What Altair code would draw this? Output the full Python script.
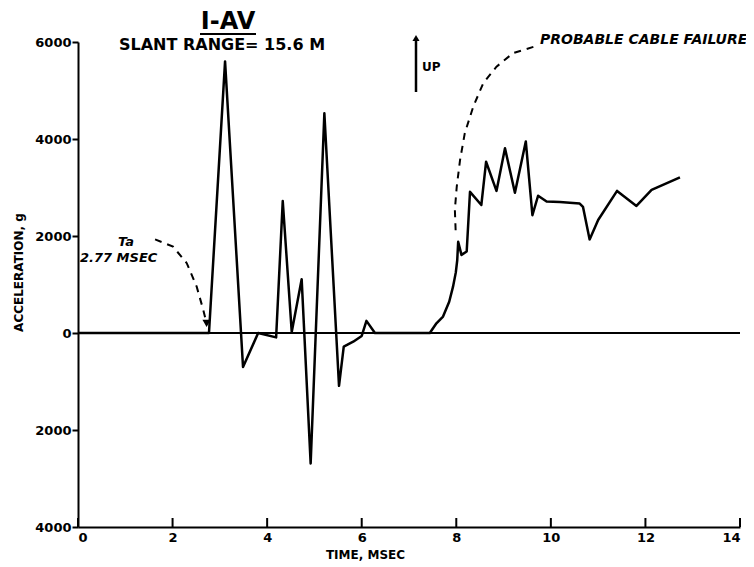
import altair as alt
import pandas as pd

# main trace (time in ms, acceleration in g)
time_ms = [0, 2.77, 3.11, 3.49, 3.81, 4.19, 4.33, 4.52, 4.73, 4.92, 5.21, 5.52, 5.62, 5.82,
           6.0, 6.1, 6.28, 7.44, 7.58, 7.72, 7.85, 7.93, 7.99, 8.02, 8.04, 8.11, 8.22, 8.29,
           8.53, 8.63, 8.85, 9.03, 9.24, 9.47, 9.61, 9.73, 9.91, 10.19, 10.61, 10.68, 10.82,
           11.0, 11.4, 11.81, 12.13, 12.73]
accel_g = [0, 0, 5600, -700, 0, -90, 2720, 20, 1110, -2690, 4530, -1090, -280, -180,
           -60, 250, 0, 0, 200, 340, 645, 950, 1250, 1500, 1880, 1610, 1680, 2910,
           2640, 3530, 2930, 3810, 2890, 3950, 2430, 2830, 2710, 2700, 2670, 2600, 1930,
           2330, 2930, 2620, 2950, 3210]

# dashed "probable cable failure" curve
cable_t = [9.63, 9.20, 8.85, 8.57, 8.36, 8.18, 8.08, 8.01, 7.97, 7.99]
cable_g = [5900, 5770, 5490, 5150, 4670, 4120, 3570, 3020, 2540, 2020]

# dashed "Ta" arrow curve
ta_t = [1.63, 2.01, 2.30, 2.51, 2.65, 2.72]
ta_g = [1930, 1780, 1440, 955, 474, 200]

x_ticks = [0, 2, 4, 6, 8, 10, 12, 14]
y_ticks = [-4000, -2000, 0, 2000, 4000, 6000]

FONT = "DejaVu Sans"

trace = pd.DataFrame({"t": time_ms, "g": accel_g, "i": range(len(time_ms))})
cable = pd.DataFrame({"t": cable_t, "g": cable_g, "i": range(len(cable_t))})
ta = pd.DataFrame({"t": ta_t, "g": ta_g, "i": range(len(ta_t))})
ticks = pd.DataFrame({"t": x_ticks})

xs = alt.Scale(domain=[0, 14], nice=False)
ys = alt.Scale(domain=[-4000, 6000], nice=False)

x_enc = alt.X("t:Q", scale=xs, axis=alt.Axis(
    values=x_ticks, ticks=False, grid=False, domainWidth=2, domainColor="black",
    labelFont=FONT, labelFontWeight="bold", labelFontSize=13, labelColor="black",
    labelPadding=4, title="TIME, MSEC", titleFont=FONT, titleFontWeight="bold",
    titleFontSize=12, titleColor="black", titleX=287, titleY=27, titleBaseline="middle"))
y_enc = alt.Y("g:Q", scale=ys, axis=alt.Axis(
    values=y_ticks, labelExpr="format(abs(datum.value), 'd')", tickSize=6, tickWidth=2,
    tickColor="black", grid=False, domainWidth=2, domainColor="black",
    labelFont=FONT, labelFontWeight="bold", labelFontSize=13, labelColor="black",
    labelPadding=1, title="ACCELERATION, g", titleFont=FONT, titleFontWeight="bold",
    titleFontSize=12, titleColor="black", titleX=-60, titleY=230, titleAngle=-90,
    titleAlign="center", titleBaseline="middle"))

line = alt.Chart(trace).mark_line(color="black", strokeWidth=2.5, strokeJoin="round").encode(
    x=x_enc, y=y_enc, order="i:Q")

zero = alt.Chart(trace).mark_rule(color="black", strokeWidth=2).encode(y=alt.datum(0))

cable_line = alt.Chart(cable).mark_line(color="black", strokeWidth=2, strokeDash=[7, 6]).encode(
    x=alt.X("t:Q", scale=xs), y=alt.Y("g:Q", scale=ys), order="i:Q")
ta_line = alt.Chart(ta).mark_line(color="black", strokeWidth=2, strokeDash=[7, 6]).encode(
    x=alt.X("t:Q", scale=xs), y=alt.Y("g:Q", scale=ys), order="i:Q")

ta_head = alt.Chart(ta.tail(1)).mark_point(shape="triangle-down", filled=True, color="black",
                                           size=70, opacity=1).encode(
    x=alt.X("t:Q", scale=xs), y=alt.Y("g:Q", scale=ys))

xticks = alt.Chart(ticks).mark_rule(color="black", strokeWidth=2).encode(
    x=alt.X("t:Q", scale=xs), y=alt.value(485), y2=alt.value(476))


def txt(s, x, y, size, italic=False, align="left"):
    return alt.Chart(trace.head(1)).mark_text(
        text=s, font=FONT, fontWeight="bold", fontSize=size, color="black",
        fontStyle="italic" if italic else "normal", align=align, baseline="middle").encode(
        x=alt.value(x), y=alt.value(y))


title1 = txt("I-AV", 150, -20, 24, align="center")
underline = alt.Chart(trace.head(1)).mark_rule(color="black", strokeWidth=2).encode(
    x=alt.value(122), x2=alt.value(178), y=alt.value(-8))
title2 = txt("SLANT RANGE= 15.6 M", 144, 3, 16, align="center")
cable_txt = txt("PROBABLE CABLE FAILURE", 462, -2, 14, italic=True)
ta_txt1 = txt("Ta", 40, 200, 13, italic=True)
ta_txt2 = txt("2.77 MSEC", 2, 216, 13, italic=True)
up_txt = txt("UP", 344, 25, 12)
up_line = alt.Chart(trace.head(1)).mark_rule(color="black", strokeWidth=2.5).encode(
    x=alt.value(338), y=alt.value(50), y2=alt.value(-2))
up_head = alt.Chart(trace.head(1)).mark_point(shape="triangle-up", filled=True, color="black",
                                              size=50, opacity=1).encode(
    x=alt.value(338), y=alt.value(-4))

chart = alt.layer(
    zero, line, cable_line, ta_line, ta_head, xticks, title1, underline, title2,
    cable_txt, ta_txt1, ta_txt2, up_txt, up_line, up_head
).properties(
    width=662, height=485,
    autosize=alt.AutoSizeParams(type="none"),
    padding={"left": 70, "top": 34, "right": 6, "bottom": 38},
    background="white",
).configure_view(stroke=None)

chart.save("out.html", embed_options={"renderer": "svg", "actions": False})
